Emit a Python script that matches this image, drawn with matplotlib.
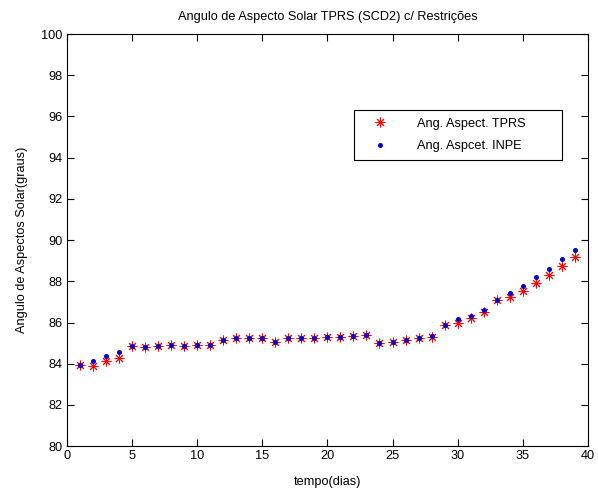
import matplotlib.pyplot as plt

plt.rcParams['font.family'] = ['Liberation Sans', 'DejaVu Sans']

# dias e angulos de aspecto solar
dias = list(range(1, 40))
tprs = [83.95, 83.90, 84.14, 84.30, 84.87, 84.82, 84.87, 84.92, 84.87, 84.90,
        84.90, 85.15, 85.23, 85.23, 85.23, 85.06, 85.23, 85.23, 85.23, 85.28,
        85.31, 85.36, 85.39, 85.01, 85.06, 85.15, 85.23, 85.32, 85.90, 85.99,
        86.20, 86.52, 87.09, 87.22, 87.54, 87.90, 88.30, 88.74, 89.19]
inpe = [83.95, 84.14, 84.38, 84.55, 84.87, 84.82, 84.87, 84.92, 84.87, 84.90,
        84.90, 85.15, 85.23, 85.23, 85.23, 85.06, 85.23, 85.23, 85.23, 85.28,
        85.31, 85.36, 85.39, 85.01, 85.06, 85.15, 85.23, 85.34, 85.90, 86.15,
        86.33, 86.60, 87.09, 87.41, 87.78, 88.19, 88.59, 89.06, 89.51]

fs = 9.2

fig = plt.figure(figsize=(5.98, 4.93), dpi=100)
ax = fig.add_axes([0.112, 0.095, 0.871, 0.836])

ax.plot(dias, tprs, linestyle='none', marker=(8, 2, 0), markersize=7,
        color='red', markeredgewidth=0.7, label='Ang. Aspect. TPRS')
ax.plot(dias, inpe, linestyle='none', marker='o', markersize=2.6,
        color='#0000cc', label='Ang. Aspcet. INPE')

ax.set_xlim(0, 40)
ax.set_ylim(80, 100)
ax.set_xticks(range(0, 41, 5))
ax.set_yticks(range(80, 101, 2))
ax.tick_params(direction='in', top=True, right=True, length=5, width=0.8,
               labelsize=fs, pad=3)
for s in ax.spines.values():
    s.set_linewidth(0.8)

ax.set_title('Angulo de Aspecto Solar TPRS (SCD2) c/ Restrições', fontsize=fs, pad=10)
ax.set_xlabel('tempo(dias)', fontsize=fs, labelpad=10)
ax.set_ylabel('Angulo de Aspectos Solar(graus)', fontsize=fs, labelpad=10)

leg = ax.legend(loc='upper left', bbox_to_anchor=(0.551, 0.816, 0.399, 0.0),
                mode='expand', borderaxespad=0, fontsize=fs, fancybox=False,
                framealpha=1, edgecolor='black', borderpad=0.6,
                handletextpad=1.5, labelspacing=0.85, handlelength=2.8)
leg.get_frame().set_linewidth(0.8)

fig.savefig('out.png', dpi=100)
